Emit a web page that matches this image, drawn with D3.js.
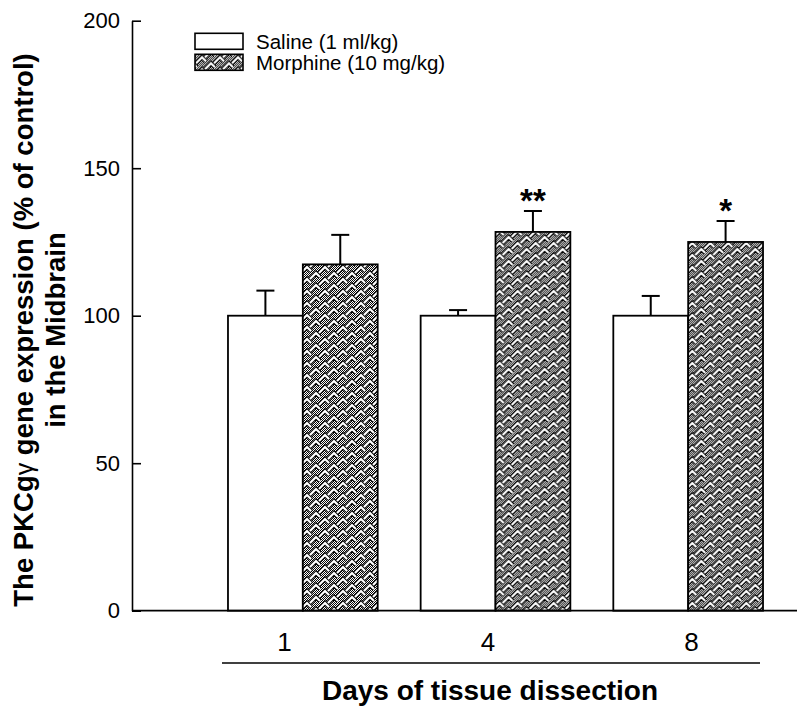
<!DOCTYPE html>
<html>
<head>
<meta charset="utf-8">
<script src="https://cdnjs.cloudflare.com/ajax/libs/d3/7.8.5/d3.min.js"></script>
<style>
  html, body { margin: 0; padding: 0; background: #fff; }
  svg { display: block; }
  text { font-family: "Liberation Sans", Arial, sans-serif; fill: #000; }
</style>
</head>
<body>
<svg id="chart" width="797" height="708"></svg>
<script>
// ---- data ----
const days = ["1", "4", "8"];
const seriesNames = ["Saline (1 ml/kg)", "Morphine (10 mg/kg)"];
const salineMean = [100, 100, 100];
const salineErr = [8.5, 1.9, 6.7];
const morphineMean = [117.4, 128.4, 125.0];
const morphineErr = [10.0, 7.1, 7.1];
const morphineSig = ["", "**", "*"];
const yTicks = [0, 50, 100, 150, 200];

const svg = d3.select("#chart");
svg.append("rect").attr("width", 797).attr("height", 708).attr("fill", "#fff");

// ---- pattern ----
const defs = svg.append("defs");
const dots = defs.append("pattern").attr("id", "dots")
  .attr("patternUnits", "userSpaceOnUse").attr("width", 2).attr("height", 2);
dots.append("rect").attr("width", 2).attr("height", 2).attr("fill", "#fff");
dots.append("rect").attr("x", 0).attr("y", 0).attr("width", 1).attr("height", 1).attr("fill", "#000");
dots.append("rect").attr("x", 1).attr("y", 1).attr("width", 1).attr("height", 1).attr("fill", "#000");

const TW = 18, TH = 12;
const weave = defs.append("pattern").attr("id", "weave")
  .attr("patternUnits", "userSpaceOnUse").attr("width", TW).attr("height", TH);
weave.append("rect").attr("width", TW).attr("height", TH).attr("fill", "url(#dots)");
const chev = [[0, 0], [9, 6]];
const shapes = [];
chev.forEach(([ox, oy]) => {
  [-TW, 0, TW].forEach(wx => [-TH, 0, TH].forEach(wy => {
    const x = ox + wx, y = oy + wy;
    shapes.push(`M${x + 1},${y + 9} L${x + 7},${y + 3} L${x + 11},${y + 7}`);
  }));
});
shapes.forEach(d => weave.append("path").attr("d", d).attr("fill", "none")
  .attr("stroke", "#000").attr("stroke-width", 4.4).attr("stroke-linejoin", "miter"));
shapes.forEach(d => weave.append("path").attr("d", d).attr("fill", "none")
  .attr("stroke", "#fff").attr("stroke-width", 2.2).attr("stroke-linejoin", "miter"));

// ---- scales ----
const axisX = 132, axisRight = 797;
const y = d3.scaleLinear().domain([0, 200]).range([610.7, 20.7]);
const x = d3.scaleBand().domain(days).range([206.5, 784.5])
  .paddingInner(0.223).paddingOuter(0.1115);
const xs = d3.scaleBand().domain(["saline", "morphine"]).range([0, x.bandwidth()]).padding(0);
const xLab = d3.scalePoint().domain(days).range([284, 691]);

const data = days.map((d, i) => ({
  day: d,
  bars: [
    { key: "saline", mean: salineMean[i], err: salineErr[i], sig: "" },
    { key: "morphine", mean: morphineMean[i], err: morphineErr[i], sig: morphineSig[i] }
  ]
}));

// ---- bars ----
const g = svg.append("g");
const groups = g.selectAll("g.grp").data(data).join("g")
  .attr("class", "grp")
  .attr("transform", d => `translate(${x(d.day)},0)`);

groups.selectAll("rect").data(d => d.bars).join("rect")
  .attr("x", b => xs(b.key))
  .attr("y", b => y(b.mean))
  .attr("width", xs.bandwidth())
  .attr("height", b => y(0) - y(b.mean))
  .attr("fill", b => b.key === "saline" ? "#fff" : "url(#weave)")
  .attr("stroke", "#000").attr("stroke-width", 1.8);

// error bars
groups.selectAll("line.err").data(d => d.bars).join("line")
  .attr("class", "err")
  .attr("x1", b => xs(b.key) + xs.bandwidth() / 2)
  .attr("x2", b => xs(b.key) + xs.bandwidth() / 2)
  .attr("y1", b => y(b.mean))
  .attr("y2", b => y(b.mean + b.err))
  .attr("stroke", "#000").attr("stroke-width", 2);
groups.selectAll("line.cap").data(d => d.bars).join("line")
  .attr("class", "cap")
  .attr("x1", b => xs(b.key) + xs.bandwidth() / 2 - 9)
  .attr("x2", b => xs(b.key) + xs.bandwidth() / 2 + 9)
  .attr("y1", b => y(b.mean + b.err))
  .attr("y2", b => y(b.mean + b.err))
  .attr("stroke", "#000").attr("stroke-width", 2);

// significance stars
groups.selectAll("text.sig").data(d => d.bars.filter(b => b.sig)).join("text")
  .attr("class", "sig")
  .attr("x", b => xs(b.key) + xs.bandwidth() / 2)
  .attr("y", b => y(b.mean + b.err) + 1)
  .attr("text-anchor", "middle")
  .style("font-size", "33px").style("font-weight", "bold")
  .text(b => b.sig);

// ---- y axis ----
const yAxis = d3.axisLeft(y).tickValues(yTicks).tickSizeInner(-9).tickSizeOuter(0).tickPadding(12);
const yg = svg.append("g").attr("transform", `translate(${axisX},0)`).call(yAxis);
yg.select(".domain").attr("stroke", "#000").attr("stroke-width", 1.6);
yg.selectAll(".tick line").attr("stroke", "#000").attr("stroke-width", 1.6);
yg.selectAll(".tick text").style("font-size", "22px").style("font-family", "Liberation Sans, Arial, sans-serif");

// ---- x axis line ----
svg.append("line")
  .attr("x1", axisX).attr("x2", axisRight)
  .attr("y1", y(0)).attr("y2", y(0))
  .attr("stroke", "#000").attr("stroke-width", 1.8);

// x tick labels
const xAxis = d3.axisBottom(xLab).tickSize(0).tickPadding(0);
const xg = svg.append("g").attr("transform", `translate(0,${651})`).call(xAxis);
xg.select(".domain").remove();
xg.selectAll(".tick text").attr("dy", 0).attr("y", 0)
  .style("font-size", "26px").style("font-family", "Liberation Sans, Arial, sans-serif");

// underline
svg.append("line").attr("x1", 222).attr("x2", 760).attr("y1", 663).attr("y2", 663)
  .attr("stroke", "#000").attr("stroke-width", 1.6);

// x title
svg.append("text").attr("x", 490).attr("y", 700).attr("text-anchor", "middle")
  .style("font-size", "28px").style("font-weight", "bold")
  .text("Days of tissue dissection");

// y title
const yt = svg.append("text")
  .attr("transform", "translate(33,330) rotate(-90)")
  .attr("text-anchor", "middle")
  .style("font-size", "27.5px").style("font-weight", "bold");
yt.append("tspan").text("The PKCg");
yt.append("tspan").style("font-weight", "normal").style("font-size", "25px").text("γ");
yt.append("tspan").text(" gene expression (% of control)");
svg.append("text")
  .attr("transform", "translate(65,330) rotate(-90)")
  .attr("text-anchor", "middle")
  .style("font-size", "27.5px").style("font-weight", "bold")
  .text("in the Midbrain");

// ---- legend ----
const leg = svg.append("g");
const legItems = leg.selectAll("g").data(seriesNames).join("g")
  .attr("transform", (d, i) => `translate(195,${33.3 + i * 21})`);
legItems.append("rect").attr("width", 48).attr("height", 16)
  .attr("fill", (d, i) => i === 0 ? "#fff" : "url(#weave)")
  .attr("stroke", "#000").attr("stroke-width", 1.6);
legItems.append("text").attr("x", 61).attr("y", 16)
  .style("font-size", "20.5px").text(d => d);
</script>
</body>
</html>
